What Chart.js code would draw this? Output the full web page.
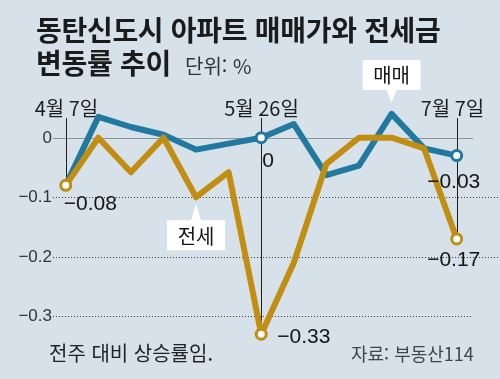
<!DOCTYPE html>
<html lang="ko">
<head>
<meta charset="utf-8">
<script src="https://cdn.jsdelivr.net/npm/chart.js@4.4.1/dist/chart.umd.min.js"></script>
<style>
  html, body { margin: 0; padding: 0; }
  body { width: 500px; height: 379px; overflow: hidden; }
  #wrap { position: relative; width: 500px; height: 379px; background: #d6e1ea; font-family: 'Noto Sans CJK KR', 'Noto Sans', sans-serif; color: #1b1b1b; }
  #chart { position: absolute; left: 0; top: 0; }
  .t { position: absolute; white-space: nowrap; line-height: 1; }
  .title { left: 36px; font-size: 28px; font-weight: bold; letter-spacing: -0.3px; }
  #unit { left: 185px; top: 56px; font-size: 20px; color: #333; }
  #note { left: 49px; top: 343px; font-size: 20px; color: #222; }
  #src { left: 351px; top: 344px; font-size: 18px; color: #444; }
</style>
</head>
<body>
<div id="wrap">
  <canvas id="chart" width="500" height="379"></canvas>
  <div class="t title" style="top:15px">동탄신도시 아파트 매매가와 전세금</div>
  <div class="t title" style="top:48px">변동률 추이</div>
  <div class="t" id="unit">단위: %</div>
  <div class="t" id="note">전주 대비 상승률임.</div>
  <div class="t" id="src">자료: 부동산114</div>
</div>
<script>
// weekly change rate, %
const weeks = ['4월 7일', '', '', '', '', '', '5월 26일', '', '', '', '', '', '7월 7일'];
const maemae = [-0.08, 0.035, 0.018, 0.005, -0.02, -0.01, 0, 0.023, -0.063, -0.047, 0.04, -0.018, -0.03];
const jeonse = [-0.08, 0, -0.058, 0, -0.1, -0.058, -0.33, -0.21, -0.044, 0, 0, -0.018, -0.17];
const yTicks = [0, -0.1, -0.2, -0.3];
// which points get a ring + value label
const markedMaemae = [6, 12];
const markedJeonse = [0, 6, 12];

const blue = '#22799f';
const gold = '#c28e12';

function fmt(v) {
  return (v < 0 ? '\u2212' : '') + Math.abs(v).toString();
}

function pts(arr) {
  return arr.map((v, i) => ({ x: i, y: v }));
}

function ring(marked) {
  return (c) => (marked.includes(c.dataIndex) ? 5 : 0);
}

const deco = {
  id: 'deco',
  beforeDatasetsDraw(chart) {
    const { ctx, chartArea, scales: { x, y } } = chart;
    ctx.save();
    // grid
    yTicks.forEach((v) => {
      const py = Math.round(y.getPixelForValue(v)) + 0.5;
      ctx.beginPath();
      if (v === 0) {
        ctx.strokeStyle = '#8c959c';
        ctx.setLineDash([]);
        ctx.moveTo(chartArea.left - 2, py);
        ctx.lineTo(chartArea.right, py);
      } else {
        ctx.strokeStyle = '#3a3a3a';
        ctx.setLineDash([1, 2]);
        ctx.moveTo(chartArea.left - 2, py);
        ctx.lineTo(v === -0.3 ? chartArea.right : chart.width, py);
      }
      ctx.lineWidth = 1;
      ctx.stroke();
      ctx.fillStyle = '#333';
      ctx.font = '17px "Liberation Sans", Arial, sans-serif';
      ctx.textAlign = 'right';
      ctx.textBaseline = 'middle';
      ctx.fillText(fmt(v), chartArea.left - 3, py);
    });
    ctx.setLineDash([]);
    // date guides
    ctx.font = '20px "Noto Sans CJK KR", sans-serif';
    ctx.textAlign = 'center';
    ctx.textBaseline = 'alphabetic';
    weeks.forEach((w, i) => {
      if (!w) return;
      const px = Math.round(x.getPixelForValue(i)) + 0.5;
      const low = Math.min(maemae[i], jeonse[i]);
      ctx.strokeStyle = '#1e1e1e';
      ctx.lineWidth = 1;
      ctx.beginPath();
      ctx.moveTo(px, y.getPixelForValue(0.033));
      ctx.lineTo(px, y.getPixelForValue(low));
      ctx.stroke();
      ctx.fillStyle = '#1e1e1e';
      ctx.fillText(w, px - (i === weeks.length - 1 ? 5 : 0), y.getPixelForValue(0.037));
    });
    ctx.restore();
  },
  afterDatasetsDraw(chart) {
    const { ctx, scales: { x, y } } = chart;
    ctx.save();
    // value labels
    ctx.fillStyle = '#151515';
    ctx.font = '21px "Liberation Sans", Arial, sans-serif';
    ctx.textBaseline = 'top';
    const put = (i, v, align, dx, dy) => {
      ctx.textAlign = align;
      ctx.fillText(fmt(v), x.getPixelForValue(i) + dx, y.getPixelForValue(v) + dy);
    };
    put(0, jeonse[0], 'left', -2, 8);
    put(6, maemae[6], 'left', 1, 13);
    put(6, jeonse[6], 'left', 16, -7);
    put(12, maemae[12], 'center', -3, 16);
    put(12, jeonse[12], 'center', -3, 11);

    // callouts
    const callout = (label, i, v, above) => {
      const px = x.getPixelForValue(i);
      const py = y.getPixelForValue(v);
      const w = 58, h = 30;
      const boxTop = above ? py - 24 - h : py + 23;
      ctx.fillStyle = '#ffffff';
      ctx.fillRect(px - w / 2, boxTop, w, h);
      ctx.beginPath();
      if (above) {
        ctx.moveTo(px - 5, boxTop + h);
        ctx.lineTo(px + 5, boxTop + h);
        ctx.lineTo(px, boxTop + h + 13);
      } else {
        ctx.moveTo(px - 5, boxTop);
        ctx.lineTo(px + 5, boxTop);
        ctx.lineTo(px, boxTop - 16);
      }
      ctx.closePath();
      ctx.fill();
      ctx.fillStyle = '#151515';
      ctx.font = '20px "Noto Sans CJK KR", sans-serif';
      ctx.textAlign = 'center';
      ctx.textBaseline = 'middle';
      ctx.fillText(label, px, boxTop + h / 2 + 1);
    };
    callout('매매', 10, maemae[10], true);
    callout('전세', 4, jeonse[4], false);
    ctx.restore();
  },
};

new Chart(document.getElementById('chart'), {
  type: 'line',
  data: {
    datasets: [
      {
        label: '전세',
        data: pts(jeonse),
        borderColor: gold,
        borderWidth: 6,
        borderJoinStyle: 'round',
        pointRadius: ring(markedJeonse),
        pointBackgroundColor: '#ffffff',
        pointBorderColor: gold,
        pointBorderWidth: 3,
        tension: 0,
        clip: false,
      },
      {
        label: '매매',
        data: pts(maemae),
        borderColor: blue,
        borderWidth: 6,
        borderJoinStyle: 'round',
        pointRadius: ring(markedMaemae),
        pointBackgroundColor: '#ffffff',
        pointBorderColor: blue,
        pointBorderWidth: 3,
        tension: 0,
        clip: false,
      },
    ],
  },
  options: {
    responsive: false,
    devicePixelRatio: 1,
    animation: false,
    events: [],
    layout: { padding: { left: 55, right: 27, top: 102, bottom: 27 } },
    plugins: { legend: { display: false }, tooltip: { enabled: false } },
    scales: {
      x: { type: 'linear', min: -0.33, max: 12.5, display: false },
      y: { min: -0.36, max: 0.06, display: false },
    },
  },
  plugins: [deco],
});
</script>
</body>
</html>
